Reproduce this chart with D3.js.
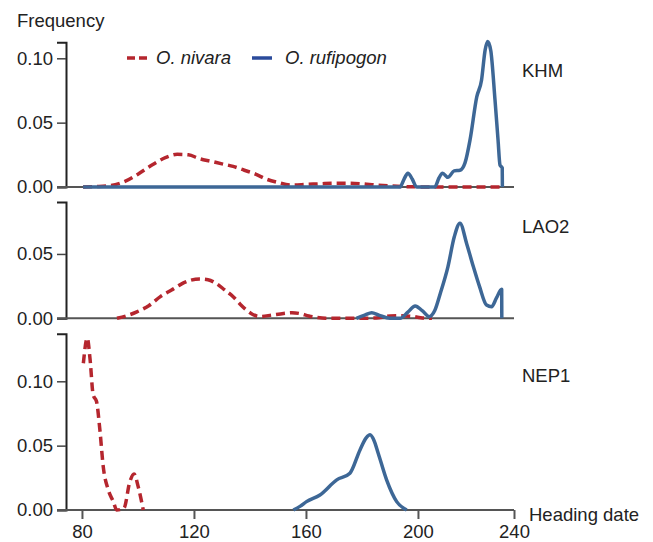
<!DOCTYPE html>
<html>
<head>
<meta charset="utf-8">
<script src="https://cdn.jsdelivr.net/npm/d3@7"></script>
<style>
  body { margin: 0; background: #fff; }
  text { font-family: "Liberation Sans", Arial, sans-serif; fill: #222; }
</style>
</head>
<body>
<div class="chart"></div>
<script>
// heading date (days) vs density
const panels = ["KHM", "LAO2", "NEP1"];
const yMax = [0.1124, 0.0904, 0.137];
const yTicks = [[0, 0.05, 0.1], [0, 0.05], [0, 0.05, 0.1]];
const xTicks = [80, 120, 160, 200];

const khmNivaraX = [80.4, 85, 90, 95, 100, 105, 110, 114, 118, 122, 126, 130, 134, 138, 142, 146, 150, 155, 160, 165, 170, 175, 180, 185, 190, 195, 200, 210, 230];
const khmNivaraY = [0, 0.0003, 0.001, 0.004, 0.010, 0.017, 0.023, 0.0254, 0.025, 0.022, 0.020, 0.018, 0.016, 0.013, 0.010, 0.006, 0.0035, 0.0015, 0.002, 0.0025, 0.003, 0.003, 0.0025, 0.0015, 0.0008, 0.0003, 0.0001, 0, 0];
const khmRufiX = [80.4, 150, 193.6, 195, 196.4, 198, 199.5, 206, 207.5, 208.8, 210.7, 212.9, 215, 216.8, 218.6, 221, 222.7, 224, 224.9, 226, 227.5, 228.6, 229.3, 230.1, 230.15];
const khmRufiY = [0, 0, 0, 0.006, 0.0107, 0.006, 0, 0, 0.007, 0.0107, 0.0075, 0.0125, 0.013, 0.0187, 0.0366, 0.070, 0.083, 0.1066, 0.113, 0.106, 0.068, 0.0366, 0.017, 0.0148, 0];

const laoNivaraX = [92.5, 96, 99.6, 104, 108, 112, 115, 118, 122, 125, 128, 131, 134, 136.5, 138.7, 141, 143.6, 148, 152, 155, 158, 161, 164, 167, 180, 186, 190, 194, 198, 201, 205];
const laoNivaraY = [0, 0.002, 0.005, 0.010, 0.0168, 0.022, 0.026, 0.029, 0.0306, 0.0300, 0.027, 0.022, 0.0168, 0.011, 0.0065, 0.003, 0.0013, 0.0026, 0.0038, 0.0044, 0.0036, 0.0018, 0.0006, 0, 0, 0.0005, 0.0018, 0.002, 0.0015, 0.0004, 0];
const laoRufiX = [178, 181, 183.5, 186, 190, 193.6, 196.5, 199, 201.5, 204, 206, 208, 210.7, 213, 215, 217.4, 219.8, 222, 224.5, 226.3, 228, 229.9, 229.95];
const laoRufiY = [0, 0.0025, 0.0044, 0.0025, 0, 0, 0.005, 0.0096, 0.006, 0.0013, 0.006, 0.0195, 0.040, 0.0635, 0.0739, 0.058, 0.040, 0.0246, 0.0103, 0.009, 0.0156, 0.0226, 0];

const nepNivaraX = [80.5, 81.9, 82.9, 84, 85.2, 86.4, 87.6, 89.4, 91.2, 92.4, 95, 97.1, 98.6, 100.1, 101.9];
const nepNivaraY = [0.114, 0.1336, 0.117, 0.0895, 0.0843, 0.0623, 0.0337, 0.0156, 0.0065, 0, 0.0015, 0.022, 0.028, 0.018, 0];
const nepRufiX = [155.5, 158, 160.2, 165, 171, 175.7, 179.3, 181.5, 182.9, 184.3, 185.8, 188.8, 192.4, 196];
const nepRufiY = [0, 0.003, 0.0065, 0.0117, 0.0234, 0.0286, 0.0467, 0.056, 0.0584, 0.054, 0.0441, 0.0234, 0.0065, 0];

const nivara = [[khmNivaraX, khmNivaraY], [laoNivaraX, laoNivaraY], [nepNivaraX, nepNivaraY]];
const rufi = [[khmRufiX, khmRufiY], [laoRufiX, laoRufiY], [nepRufiX, nepRufiY]];

const red = "#b5262e", blue = "#3d6796";
const fs = 18.5;

const W = 653, H = 542;
const svg = d3.select(".chart").append("svg")
    .attr("width", W).attr("height", H);

const x = d3.scaleLinear().domain([74.3, 234.3]).range([66, 514]);
const pxPerUnit = 1287;
const bases = [187, 318.3, 510];

const line = (xs, ys, y) => d3.line()
    .x((d, i) => x(xs[i]))
    .y((d, i) => y(ys[i]))
    .curve(d3.curveMonotoneX)(xs);

panels.forEach((name, p) => {
    const y = d3.scaleLinear()
        .domain([0, yMax[p]])
        .range([bases[p], bases[p] - yMax[p] * pxPerUnit]);

    const g = svg.append("g");

    // y axis
    const ya = g.append("g")
        .attr("transform", "translate(66,0)")
        .call(d3.axisLeft(y).tickValues(yTicks[p]).tickFormat(d3.format(".2f")).tickSizeOuter(0).tickSize(9).tickPadding(4));
    ya.select(".domain").attr("stroke", "#222").attr("stroke-width", 2);
    ya.selectAll(".tick line").attr("stroke", "#444").attr("stroke-width", 1.5);
    ya.selectAll(".tick text").attr("font-size", fs).attr("fill", "#222");

    // baseline
    g.append("line")
        .attr("x1", 57).attr("x2", 514)
        .attr("y1", y(0)).attr("y2", y(0))
        .attr("stroke", "#555").attr("stroke-width", 2);

    g.append("path")
        .attr("d", line(nivara[p][0], nivara[p][1], y))
        .attr("fill", "none")
        .attr("stroke", red)
        .attr("stroke-width", 3.5)
        .attr("stroke-dasharray", "9,5");

    g.append("path")
        .attr("d", line(rufi[p][0], rufi[p][1], y))
        .attr("fill", "none")
        .attr("stroke", blue)
        .attr("stroke-width", 3.5)
        .attr("stroke-linejoin", "round");

    g.append("text")
        .attr("x", 522)
        .attr("y", [77, 233, 382][p])
        .attr("font-size", fs)
        .text(name);
});

// x axis on bottom panel
const xTickVals = xTicks.concat([234.3]);
const xa = svg.append("g")
    .attr("transform", `translate(0,${bases[2]})`)
    .call(d3.axisBottom(x).tickValues(xTickVals)
        .tickFormat(d => d === 234.3 ? "240" : d)
        .tickSize(9).tickSizeOuter(0).tickPadding(6));
xa.select(".domain").remove();
xa.selectAll(".tick line").attr("stroke", "#555").attr("stroke-width", 2);
xa.selectAll(".tick text").attr("font-size", fs).attr("fill", "#222");

svg.append("text")
    .attr("x", 529).attr("y", 521)
    .attr("font-size", fs)
    .text("Heading date");

svg.append("text")
    .attr("x", 17).attr("y", 27)
    .attr("font-size", fs)
    .text("Frequency");

// legend
const lg = svg.append("g").attr("transform", "translate(0,58)");
lg.append("line").attr("x1", 127).attr("x2", 147).attr("y1", 0).attr("y2", 0)
    .attr("stroke", red).attr("stroke-width", 3.5).attr("stroke-dasharray", "8,4");
lg.append("text").attr("x", 156).attr("y", 6).attr("font-size", fs)
    .attr("font-style", "italic").text("O. nivara");
lg.append("line").attr("x1", 252).attr("x2", 272).attr("y1", 0).attr("y2", 0)
    .attr("stroke", "#2b4b9b").attr("stroke-width", 3.5);
lg.append("text").attr("x", 285).attr("y", 6).attr("font-size", fs)
    .attr("font-style", "italic").text("O. rufipogon");
</script>
</body>
</html>
